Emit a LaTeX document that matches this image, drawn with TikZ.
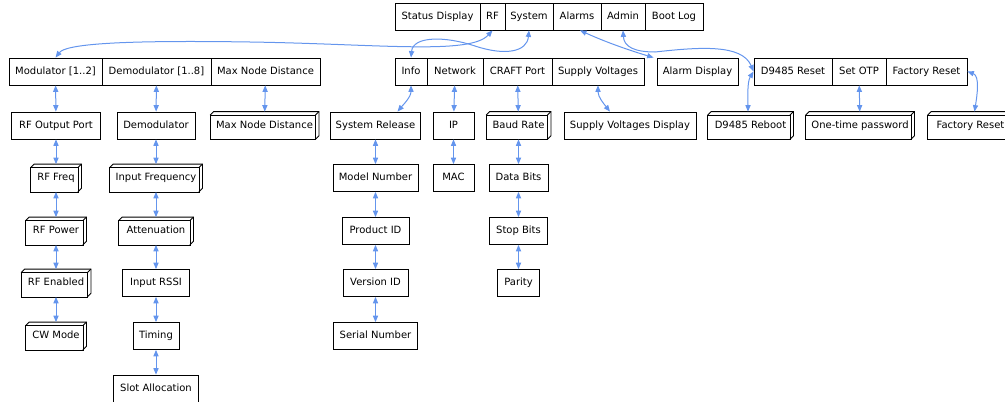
\documentclass[tikz,border=0pt]{standalone}
\usepackage{fontspec}
\setmainfont{DejaVu Sans}
\usetikzlibrary{arrows.meta}
\definecolor{linkblue}{HTML}{6495ED}
\tikzset{
  fld/.style={draw, line width=0.8pt, inner sep=0pt, minimum height=27pt,
    font=\fontsize{10}{12}\selectfont, text height=7.4pt, text depth=2pt},
  box3d/.style={fld, draw=none},
  shade3d/.style={line width=0.8pt, black},
  tip/.tip={Triangle[length=6.5pt,width=5.2pt]},
  link/.style={draw=linkblue, line width=1pt, tip-tip},
}
\begin{document}
\begin{tikzpicture}[x=1pt, y=-1pt]
\useasboundingbox (0,0) rectangle (1005,402);

% top menu record
\node[fld, minimum width=85pt] (statusdisp) at (437.5,16.5) {Status Display};
\node[fld, minimum width=25pt] (rf) at (492.5,16.5) {RF};
\node[fld, minimum width=48pt] (system) at (529,16.5) {System};
\node[fld, minimum width=48pt] (alarms) at (577,16.5) {Alarms};
\node[fld, minimum width=44pt] (admin) at (623,16.5) {Admin};
\node[fld, minimum width=58pt] (bootlog) at (674,16.5) {Boot Log};

% second level records
\node[fld, minimum width=93pt] (mod) at (55.5,71.5) {Modulator [1..2]};
\node[fld, minimum width=109pt] (demod) at (156.5,71.5) {Demodulator [1..8]};
\node[fld, minimum width=109pt] (maxnd) at (265.5,71.5) {Max Node Distance};
\node[fld, minimum width=32pt] (info) at (411,71.5) {Info};
\node[fld, minimum width=56pt] (network) at (455,71.5) {Network};
\node[fld, minimum width=69pt] (craft) at (517.5,71.5) {CRAFT Port};
\node[fld, minimum width=92pt] (supply) at (598,71.5) {Supply Voltages};
\node[fld, minimum width=81pt] (alarmdisp) at (697.5,71.5) {Alarm Display};
\node[fld, minimum width=78pt] (dreset) at (793,71.5) {D9485 Reset};
\node[fld, minimum width=54pt] (setotp) at (859,71.5) {Set OTP};
\node[fld, minimum width=81pt] (freset) at (926.5,71.5) {Factory Reset};

% third level
\node[fld, minimum width=89pt] (rfout) at (56,125.5) {RF Output Port};
\node[fld, minimum width=78pt] (demodbox) at (156,125.5) {Demodulator};
\node[box3d, minimum width=108pt] (maxndbox) at (264.5,125.5) {Max Node Distance};
\node[fld, minimum width=90pt] (sysrel) at (375.5,125.5) {System Release};
\node[fld, minimum width=41pt] (ip) at (453.5,125.5) {IP};
\node[box3d, minimum width=64pt] (baud) at (518.5,125.5) {Baud Rate};
\node[fld, minimum width=132pt] (svdisp) at (630,125.5) {Supply Voltages Display};
\node[box3d, minimum width=85pt] (reboot) at (750.5,125.5) {D9485 Reboot};
\node[box3d, minimum width=108pt] (otpbox) at (860,125.5) {One-time password};
\node[box3d, minimum width=85pt] (fresetbox) at (970.5,125.5) {Factory Reset};

% fourth level
\node[box3d, minimum width=50pt] (rffreq) at (56,178) {RF Freq};
\node[box3d, minimum width=92pt] (infreq) at (156,178) {Input Frequency};
\node[fld, minimum width=85pt] (model) at (375.5,178) {Model Number};
\node[fld, minimum width=41pt] (mac) at (453.5,178) {MAC};
\node[fld, minimum width=59pt] (databits) at (518.5,178) {Data Bits};

% fifth level
\node[box3d, minimum width=60pt] (rfpower) at (56,231) {RF Power};
\node[box3d, minimum width=74pt] (atten) at (156,231) {Attenuation};
\node[fld, minimum width=67pt] (product) at (375.5,231) {Product ID};
\node[fld, minimum width=58pt] (stopbits) at (518.5,231) {Stop Bits};

% sixth level
\node[box3d, minimum width=69pt] (rfen) at (56,283) {RF Enabled};
\node[fld, minimum width=67pt] (rssi) at (156,283) {Input RSSI};
\node[fld, minimum width=65pt] (version) at (375.5,283) {Version ID};
\node[fld, minimum width=42pt] (parity) at (518.5,283) {Parity};

% seventh and eighth level
\node[box3d, minimum width=60pt] (cw) at (56,336) {CW Mode};
\node[fld, minimum width=46pt] (timing) at (156,336) {Timing};
\node[fld, minimum width=84pt] (serial) at (375.5,336) {Serial Number};
\node[fld, minimum width=85pt] (slot) at (156,388.5) {Slot Allocation};

% raised outline for the box3d nodes
\foreach \n in {maxndbox,baud,reboot,otpbox,fresetbox,rffreq,infreq,rfpower,atten,rfen,cw} {
  \draw[shade3d] ([yshift=-3.5pt]\n.north west) rectangle ([xshift=-3.5pt]\n.south east);
  \draw[shade3d] ([yshift=-3.5pt]\n.north west) -- ([xshift=3.5pt]\n.north west)
    -- (\n.north east) -- ([yshift=3.5pt]\n.south east) -- ([xshift=-3.5pt]\n.south east);
  \draw[shade3d] ([xshift=-3.5pt,yshift=-3.5pt]\n.north east) -- (\n.north east);
}

% vertical links
\draw[link] (mod) -- (rfout);
\draw[link] (rfout) -- (rffreq);
\draw[link] (rffreq) -- (rfpower);
\draw[link] (rfpower) -- (rfen);
\draw[link] (rfen) -- (cw);
\draw[link] (demod) -- (demodbox);
\draw[link] (demodbox) -- (infreq);
\draw[link] (infreq) -- (atten);
\draw[link] (atten) -- (rssi);
\draw[link] (rssi) -- (timing);
\draw[link] (timing) -- (slot);
\draw[link] (maxnd) -- (maxndbox);
\draw[link] (sysrel) -- (model);
\draw[link] (model) -- (product);
\draw[link] (product) -- (version);
\draw[link] (version) -- (serial);
\draw[link] (network) -- (ip);
\draw[link] (ip) -- (mac);
\draw[link] (craft) -- (baud);
\draw[link] (baud) -- (databits);
\draw[link] (databits) -- (stopbits);
\draw[link] (stopbits) -- (parity);
\draw[link] (setotp) -- (otpbox);

% curved links
\coordinate (modbend) at (250,42);
\coordinate (infobend) at (475,46);
\coordinate (adminbend) at (655,52);
\draw[link] (mod.north) .. controls (66,44) and (120,40) .. (modbend)
  .. controls (380,44) and (470,55) .. (rf.south);
\draw[link] (info.north) .. controls (413,36) and (445,36) .. (infobend)
  .. controls (505,56) and (527,52) .. (system.south);
\draw[link] ([xshift=3pt]alarms.south) .. controls (610,44) and (635,52) .. ([xshift=-3pt]alarmdisp.north west);
\draw[link] (admin.south) .. controls (624,47) and (635,52) .. (adminbend)
  .. controls (700,47) and (742,44) .. (dreset.west);
\draw[link] (dreset.west) .. controls (747,82) and (748,98) .. ([xshift=-2.5pt]reboot.north);
\draw[link] (freset.east) .. controls (980,76) and (977,96) .. ([xshift=4pt]fresetbox.north);
\draw[link] (supply.south) .. controls (598,97) and (604,104) .. ([xshift=-20pt]svdisp.north);
\draw[link] (info.south) .. controls (411,97) and (403,105) .. ([xshift=22pt]sysrel.north);
\end{tikzpicture}
\end{document}
